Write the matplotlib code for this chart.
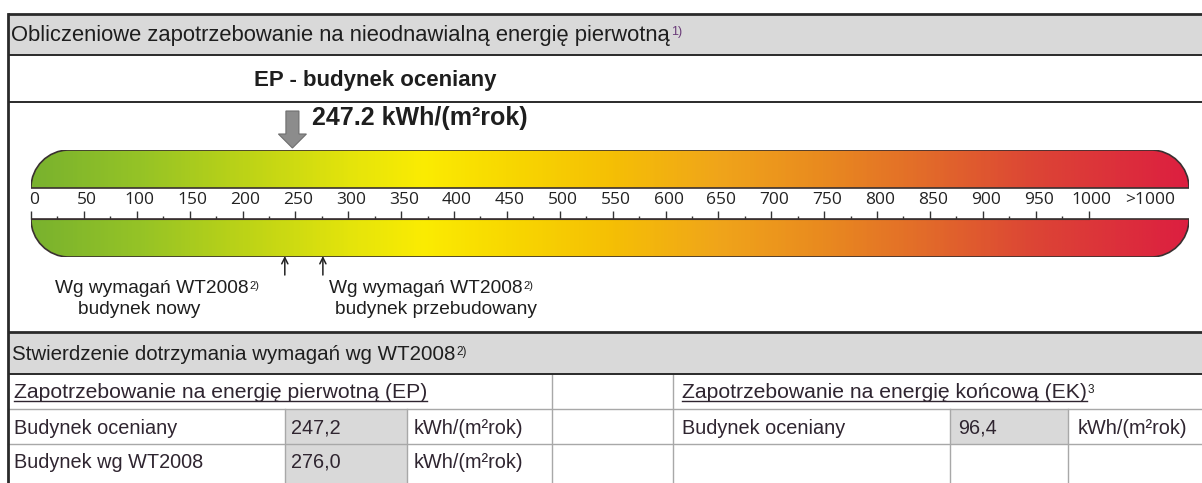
import numpy as np
import matplotlib
matplotlib.use("Agg")
import matplotlib.pyplot as plt
from matplotlib.patches import Rectangle, PathPatch, Polygon
from matplotlib.path import Path
from matplotlib.colors import LinearSegmentedColormap
from matplotlib import transforms

# ---------------- data ----------------
header_title = "Obliczeniowe zapotrzebowanie na nieodnawialną energię pierwotną"
header_sup = "1)"
subtitle = "EP - budynek oceniany"
ep_value = 247.2
ep_unit = "kWh/(m²rok)"
scale_ticks = [0, 50, 100, 150, 200, 250, 300, 350, 400, 450, 500,
               550, 600, 650, 700, 750, 800, 850, 900, 950, 1000]
scale_minor = [25, 75, 125, 175, 225, 275, 325, 375, 425, 475, 525,
               575, 625, 675, 725, 775, 825, 875, 925, 975]
scale_over_label = ">1000"
scale_over_pos = 1058
scale_max = 1095
wt_new = 240
wt_rebuilt = 276
wt_line1 = ["Wg wymagań WT2008", "Wg wymagań WT2008"]
wt_line2 = ["budynek nowy", "budynek przebudowany"]
wt_sup = "2)"
gradient_pos = [0, 100, 200, 300, 370, 450, 550, 650, 750, 850, 950, 1095]
gradient_col = ["#79b22e", "#95c326", "#bcd317", "#e4e40b", "#fbec02", "#f8d800",
                "#f5bf05", "#f0a51a", "#e98a1f", "#e26a2a", "#dc4535", "#dc1f40"]

table_title = "Stwierdzenie dotrzymania wymagań wg WT2008"
ep_section = "Zapotrzebowanie na energię pierwotną (EP)"
ek_section = "Zapotrzebowanie na energię końcową (EK)"
ek_sup = "3"
ep_rows = ["Budynek oceniany", "Budynek wg WT2008"]
ep_values = ["247,2", "276,0"]
ek_rows = ["Budynek oceniany"]
ek_values = ["96,4"]
unit_label = "kWh/(m²rok)"

# ---------------- figure ----------------
W, H = 1202, 483
fig = plt.figure(figsize=(W / 100, H / 100), dpi=100)
fig.patch.set_facecolor("white")
ax = fig.add_axes([0, 0, 1, 1])
ax.set_xlim(0, W)
ax.set_ylim(H, 0)
ax.axis("off")

SANS = ["Liberation Sans", "DejaVu Sans"]
TXT = "#1e1e1e"
BODY = "#2f2530"
GRAYBAND = "#d9d9d9"
DARK = "#2a2a2a"
GRID = "#a8a8a8"

LEFT = 8
TOP, HDR_B, EP_LINE, BOX_B, STW_B, ROW1_B, ROW2_B = 14, 55, 102, 332, 374, 409, 444

# header bands
ax.add_patch(Rectangle((LEFT, TOP), W - LEFT, HDR_B - TOP, fc=GRAYBAND, ec="none", zorder=0))
ax.add_patch(Rectangle((LEFT, BOX_B), W - LEFT, STW_B - BOX_B, fc=GRAYBAND, ec="none", zorder=0))

# table gray cells
ax.add_patch(Rectangle((285, ROW1_B), 407 - 285, H - ROW1_B, fc=GRAYBAND, ec="none", zorder=0))
ax.add_patch(Rectangle((950, ROW1_B), 1068 - 950, ROW2_B - ROW1_B, fc=GRAYBAND, ec="none", zorder=0))

# lines
for y, lw in [(TOP, 2.0), (HDR_B, 1.4), (EP_LINE, 1.4), (BOX_B, 2.0), (STW_B, 1.4)]:
    ax.plot([LEFT, W], [y, y], color=DARK, lw=lw, solid_capstyle="butt", zorder=3)
for y in [ROW1_B, ROW2_B]:
    ax.plot([LEFT, W], [y, y], color=GRID, lw=1.0, zorder=2)
ax.plot([LEFT, LEFT], [TOP, H], color=DARK, lw=2.0, zorder=3)
for x in [552, 673]:
    ax.plot([x, x], [STW_B, H], color=GRID, lw=1.0, zorder=2)
for x in [285, 407, 950, 1068]:
    ax.plot([x, x], [ROW1_B, H], color=GRID, lw=1.0, zorder=2)

renderer = fig.canvas.get_renderer()
inv = ax.transData.inverted()


def extent(t):
    bb = t.get_window_extent(renderer)
    (x0, yb), (x1, yt) = inv.transform([[bb.x0, bb.y0], [bb.x1, bb.y1]])
    return x0, x1, yt, yb


def sup(t, s, size=8.5, color=TXT, dy=0.0, dx=1.0):
    x0, x1, yt, yb = extent(t)
    ax.text(x1 + dx, yt + dy, s, fontsize=size, family=SANS, color=color,
            ha="left", va="top", zorder=5)


def underline(t, y):
    x0, x1, yt, yb = extent(t)
    ax.plot([x0, x1], [y, y], color=BODY, lw=1.0, zorder=5)


# header text
t = ax.text(11, 41, header_title, fontsize=15.8, family=SANS, color=TXT, va="baseline")
sup(t, header_sup, size=9, color="#6a3b78", dy=1)

ax.text(375, 86, subtitle, fontsize=16, family=SANS, weight="bold", color=TXT,
        ha="center", va="baseline")

# ---------------- scale bar ----------------
BX0, BX1, BY_TOP, BY_BOT = 31, 1189, 150, 257
bax = fig.add_axes([BX0 / W, (H - BY_BOT) / H, (BX1 - BX0) / W, (BY_BOT - BY_TOP) / H])
bax.set_facecolor("none")
hh = BY_BOT - BY_TOP  # 107
half = 38
y_lo_top = half
y_up_bot = hh - half
pxu = (BX1 - BX0) / scale_max
rx = half / pxu
ry = half
k = 0.5523
V = scale_max

up_verts = [(0, y_up_bot), (V, y_up_bot),
            (V, y_up_bot + k * ry), (V - rx + k * rx, hh), (V - rx, hh),
            (rx, hh),
            (rx - k * rx, hh), (0, y_up_bot + k * ry), (0, y_up_bot),
            (0, y_up_bot)]
codes = [Path.MOVETO, Path.LINETO, Path.CURVE4, Path.CURVE4, Path.CURVE4,
         Path.LINETO, Path.CURVE4, Path.CURVE4, Path.CURVE4, Path.CLOSEPOLY]
lo_verts = [(0, y_lo_top), (V, y_lo_top),
            (V, y_lo_top - k * ry), (V - rx + k * rx, 0), (V - rx, 0),
            (rx, 0),
            (rx - k * rx, 0), (0, y_lo_top - k * ry), (0, y_lo_top),
            (0, y_lo_top)]

cmap = LinearSegmentedColormap.from_list(
    "ep", [(p / scale_max, c) for p, c in zip(gradient_pos, gradient_col)])
grad = np.linspace(0, 1, 600)[None, :]
for verts in [up_verts, lo_verts]:
    patch = PathPatch(Path(verts, codes), fc="none", ec="#3a3030", lw=1.2, zorder=3)
    bax.add_patch(patch)
    im = bax.imshow(grad, extent=[0, V, 0, hh], aspect="auto", cmap=cmap,
                    interpolation="bilinear", zorder=2)
    im.set_clip_path(patch)

bax.set_xlim(0, V)
bax.set_ylim(0, hh)
for s in ["left", "right", "bottom"]:
    bax.spines[s].set_visible(False)
bax.spines["top"].set_position(("data", y_lo_top))
bax.spines["top"].set_color("#333333")
bax.spines["top"].set_bounds(0, 1000)
bax.xaxis.set_ticks_position("top")
bax.set_xticks(scale_ticks)
bax.set_xticklabels([str(v) for v in scale_ticks])
bax.set_xticks(scale_minor, minor=True)
bax.tick_params(axis="x", which="major", direction="out", length=5.8, width=1.0,
                color="#333333", pad=2.2, labelsize=12.5, labelcolor="#222222")
bax.tick_params(axis="x", which="minor", direction="out", length=2.2, width=1.0,
                color="#333333")
for lab in bax.get_xticklabels():
    lab.set_family(["Open Sans", "DejaVu Sans"])
    lab.set_transform(lab.get_transform() + transforms.ScaledTranslation(0.03, 0, fig.dpi_scale_trans))
bax.set_yticks([])
bax.text(scale_over_pos, y_lo_top + 8 + 2.2 * 100 / 72, scale_over_label,
         fontsize=12.5, family=["Open Sans", "DejaVu Sans"], color="#222222",
         ha="center", va="bottom")

# big arrow for evaluated building
xa = inv.transform(bax.transData.transform((ep_value, 0)))[0]
arrow = Polygon([(xa - 6.5, 111), (xa + 6.5, 111), (xa + 6.5, 134), (xa + 14, 134),
                 (xa, 148), (xa - 14, 134), (xa - 6.5, 134)],
                closed=True, fc="#8c8c8c", ec="#6e6e6e", lw=0.8, zorder=6)
ax.add_patch(arrow)
ax.text(xa + 20, 125, f"{ep_value:.1f} {ep_unit}", fontsize=18, family=SANS,
        weight="bold", color=TXT, va="baseline", ha="left")

# small arrows for WT2008 requirements
for v in [wt_new, wt_rebuilt]:
    xv = inv.transform(bax.transData.transform((v, 0)))[0]
    ax.annotate("", xy=(xv, 256), xytext=(xv, 275),
                arrowprops=dict(arrowstyle="->", lw=1.1, color="#222222",
                                mutation_scale=11, shrinkA=0, shrinkB=0))

label_x1 = [55, 329]
label_x2 = [78, 335]
for i in range(2):
    t = ax.text(label_x1[i], 293, wt_line1[i], fontsize=13.8, family=SANS, color=TXT,
                va="baseline", ha="left")
    sup(t, wt_sup, size=8, dy=1)
    ax.text(label_x2[i], 314, wt_line2[i], fontsize=13.8, family=SANS, color=TXT,
            va="baseline", ha="left")

# ---------------- table ----------------
t = ax.text(12, 360, table_title, fontsize=14.8, family=SANS, color=TXT, va="baseline")
sup(t, wt_sup, size=8.5, dy=1)

t = ax.text(14, 398, ep_section, fontsize=15.2, family=SANS, color=BODY, va="baseline")
underline(t, 401)
t = ax.text(682, 398, ek_section, fontsize=15.2, family=SANS, color=BODY, va="baseline")
underline(t, 401)
sup(t, ek_sup, size=8.5, dy=1)

row_base = [434, 468]
for i, (name, val) in enumerate(zip(ep_rows, ep_values)):
    ax.text(14, row_base[i], name, fontsize=14.3, family=SANS, color=BODY, va="baseline")
    ax.text(291, row_base[i], val, fontsize=14.3, family=SANS, color=BODY, va="baseline")
    ax.text(414, row_base[i], unit_label, fontsize=14.3, family=SANS, color=BODY, va="baseline")
for i, (name, val) in enumerate(zip(ek_rows, ek_values)):
    ax.text(682, row_base[i], name, fontsize=14.3, family=SANS, color=BODY, va="baseline")
    ax.text(958, row_base[i], val, fontsize=14.3, family=SANS, color=BODY, va="baseline")
    ax.text(1078, row_base[i], unit_label, fontsize=14.3, family=SANS, color=BODY, va="baseline")

fig.savefig("out.png", dpi=100, facecolor="white")
